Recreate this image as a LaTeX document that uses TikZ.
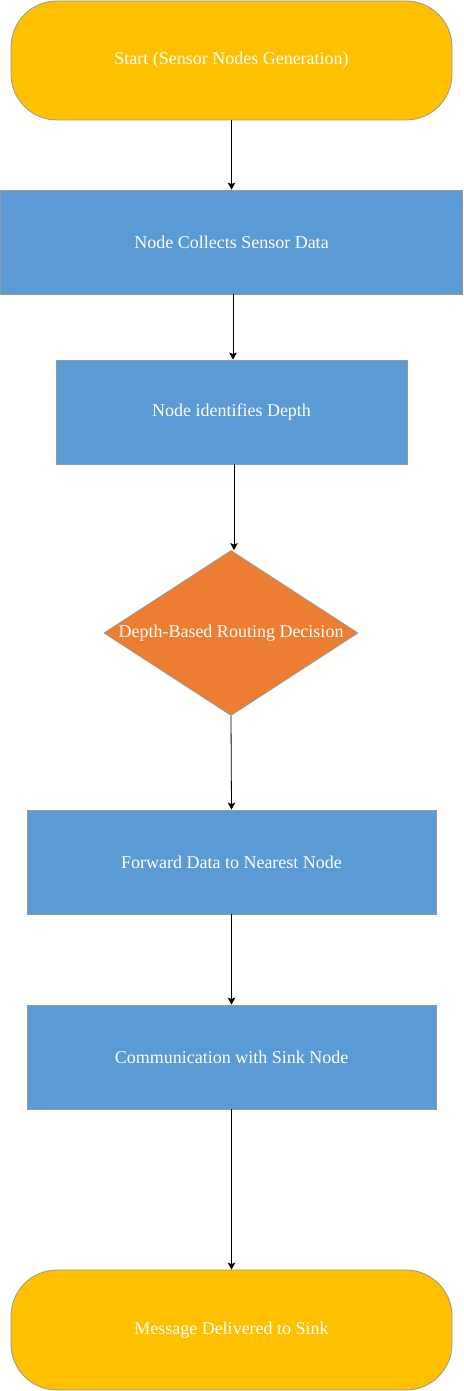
\documentclass[tikz,border=0pt]{standalone}
\usepackage{fontspec}
\setmainfont{Liberation Serif}
\usetikzlibrary{shapes.geometric,arrows.meta}
\definecolor{termfill}{HTML}{FFC000}
\definecolor{procfill}{HTML}{5B9BD5}
\definecolor{decfill}{HTML}{ED7D31}
\definecolor{edgegray}{HTML}{999999}
\tikzset{
  base/.style={draw=edgegray, line width=0.8pt, text=white, inner sep=0pt,
    font=\fontsize{18}{21}\selectfont, anchor=center},
  term/.style={base, fill=termfill, rectangle, rounded corners=46pt},
  proc/.style={base, fill=procfill, rectangle},
  dec/.style={base, fill=decfill, diamond, aspect=1.54},
  flow/.style={draw=black, line width=0.8pt, -{Stealth[width=7.5pt,length=7pt,inset=1.5pt]}}
}
\begin{document}
\begin{tikzpicture}[x=1pt,y=-1pt]
\useasboundingbox (0,0) rectangle (463,1391);
\node[term, minimum width=441pt, minimum height=119pt] (start) at (231.5,60.5) {Start (Sensor Nodes Generation)};
\node[proc, minimum width=462pt, minimum height=104pt] (collect) at (231.5,242) {Node Collects Sensor Data};
\node[proc, minimum width=351pt, minimum height=104pt] (depth) at (231.5,412) {Node identifies Depth};
\node[dec, minimum width=254pt, minimum height=165pt] (decide) at (231,633) {Depth-Based Routing Decision};
\node[proc, minimum width=409pt, minimum height=104pt] (forward) at (231.5,862) {Forward Data to Nearest Node};
\node[proc, minimum width=409pt, minimum height=104pt] (sink) at (231.5,1057) {Communication with Sink Node};
\node[term, minimum width=441pt, minimum height=120pt] (done) at (231.5,1330) {Message Delivered to Sink};
\draw[flow] (start.south) -- (collect.north);
\draw[flow] ([xshift=1.5pt]collect.south) -- ([xshift=1.5pt]depth.north);
\draw[flow] ([xshift=2.5pt]depth.south) -- ([xshift=3pt]decide.north);
\draw[flow] (decide.south) -- (forward.north);
\draw[flow] (forward.south) -- (sink.north);
\draw[flow] (sink.south) -- (done.north);
\end{tikzpicture}
\end{document}
